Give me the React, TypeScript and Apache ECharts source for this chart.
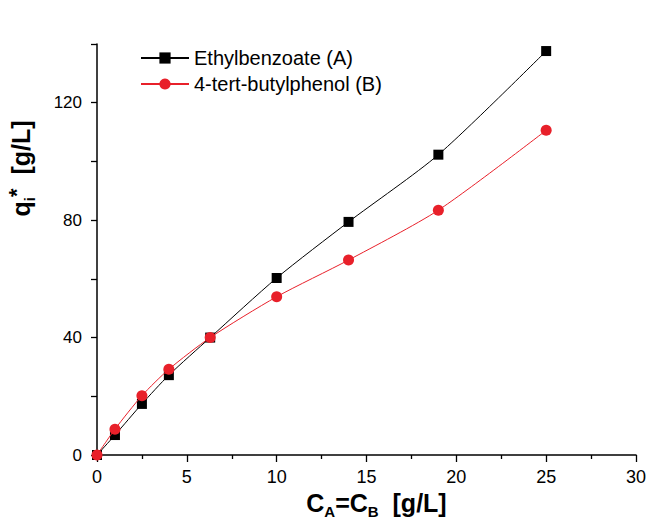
import React, { useEffect, useRef } from "react";
import * as echarts from "echarts";

const xValues = [0, 1, 2.5, 4, 6.3, 10, 14, 19, 25];
const seriesA = [0, 6.8, 17.4, 27.2, 40.0, 60.3, 79.4, 102.3, 137.6];
const seriesB = [0, 8.8, 20.2, 29.2, 40.0, 53.9, 66.4, 83.4, 110.6];
const nameA = "Ethylbenzoate (A)";
const nameB = "4-tert-butylphenol (B)";
const yMajorLabels = [0, 40, 80, 120];

export default function App() {
  const ref = useRef<HTMLDivElement>(null);
  useEffect(() => {
    if (!ref.current) return;
    const chart = echarts.init(ref.current, null, { renderer: "svg" });
    const font = "'Liberation Sans', Arial, sans-serif";
    chart.setOption({
      animation: false,
      backgroundColor: "#ffffff",
      grid: {
        left: 97,
        right: 17,
        top: 44,
        bottom: 69,
        containLabel: false,
        outerBoundsMode: "none",
      },
      legend: {
        orient: "vertical",
        left: 135,
        top: 43,
        itemWidth: 48,
        itemHeight: 14,
        itemGap: 6,
        textStyle: { fontSize: 20, lineHeight: 20, color: "#000", fontFamily: font },
        data: [nameA, nameB],
      },
      xAxis: {
        type: "value",
        min: 0,
        max: 30,
        interval: 5,
        axisLine: { show: true, lineStyle: { color: "#000", width: 1.5 } },
        axisTick: { show: true, length: 7, lineStyle: { color: "#000", width: 1.3 } },
        minorTick: { show: true, splitNumber: 2, length: 4, lineStyle: { color: "#000", width: 1.3 } },
        splitLine: { show: false },
        minorSplitLine: { show: false },
        axisLabel: {
          color: "#000",
          fontSize: 18,
          fontFamily: "'Liberation Sans Narrow', 'Arial Narrow', " + font,
          margin: 13,
        },
        name: "{b|C}{s|A}{b|=C}{s|B}{b|  [g/L]}",
        nameLocation: "middle",
        nameGap: 32,
        nameTextStyle: {
          padding: [0, 0, 0, 20],
          rich: {
            b: { fontSize: 25, fontWeight: "bold", color: "#000", fontFamily: font },
            s: { fontSize: 15, fontWeight: "bold", color: "#000", fontFamily: font, padding: [16, 0, 0, 0] },
          },
        },
      },
      yAxis: {
        type: "value",
        min: 0,
        max: 140,
        interval: 20,
        axisLine: { show: true, lineStyle: { color: "#000", width: 1.5 } },
        axisTick: { show: true, length: 6, lineStyle: { color: "#000", width: 1.3 } },
        splitLine: { show: false },
        axisLabel: {
          color: "#000",
          fontSize: 17,
          fontFamily: font,
          margin: 15,
          formatter: (v: number) => (yMajorLabels.includes(v) ? String(v) : ""),
        },
        name: "{b|q}{s|i}{p|*}{b|  [g/L]}",
        nameLocation: "middle",
        nameRotate: 90,
        nameGap: 60,
        nameTextStyle: {
          padding: [0, 0, 0, 162],
          rich: {
            b: { fontSize: 25, fontWeight: "bold", color: "#000", fontFamily: font },
            s: { fontSize: 15, fontWeight: "bold", color: "#000", fontFamily: font, padding: [16, 0, 0, 0] },
            p: { fontSize: 22, fontWeight: "bold", color: "#000", fontFamily: font, padding: [0, 0, 10, 0] },
          },
        },
      },
      series: [
        {
          name: nameA,
          type: "line",
          data: xValues.map((x, i) => [x, seriesA[i]]),
          smooth: 0.25,
          symbol: "rect",
          symbolSize: 10,
          itemStyle: { color: "#000" },
          lineStyle: { color: "#000", width: 1 },
          z: 2,
        },
        {
          name: nameB,
          type: "line",
          data: xValues.map((x, i) => [x, seriesB[i]]),
          smooth: 0.25,
          symbol: "circle",
          symbolSize: 11,
          itemStyle: { color: "#e8202a" },
          lineStyle: { color: "#e8202a", width: 1 },
          z: 3,
        },
      ],
    });
    return () => chart.dispose();
  }, []);
  return (
    <div
      ref={ref}
      style={{ position: "absolute", left: 0, top: 0, width: 653, height: 524 }}
    />
  );
}
